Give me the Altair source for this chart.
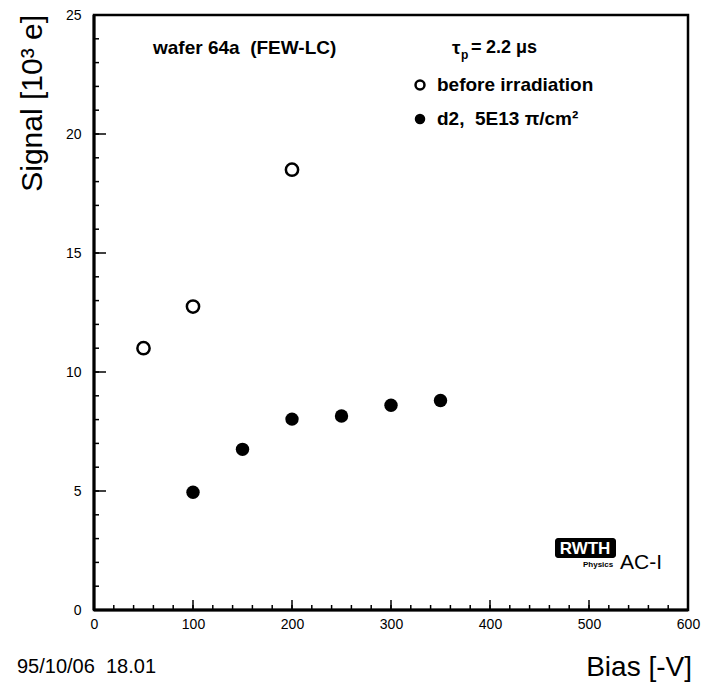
import altair as alt
import pandas as pd

# ---- data ----
bias_before = [50, 100, 200]
signal_before = [11.0, 12.75, 18.5]

bias_irr = [100, 150, 200, 250, 300, 350]
signal_irr = [4.95, 6.75, 8.02, 8.15, 8.6, 8.8]

x_major = [0, 100, 200, 300, 400, 500, 600]
x_minor = list(range(0, 601, 20))
y_major = [0, 5, 10, 15, 20, 25]
y_minor = list(range(0, 26, 1))

W, H = 594, 595
FONT = "Liberation Sans"
NB = "\u00a0"

xs = alt.Scale(domain=[0, 600], nice=False, zero=False)
ys = alt.Scale(domain=[0, 25], nice=False, zero=False)

one = alt.Data(values=[{"a": 1}])


def txt(s, x, y, size, weight="normal", align="left", angle=None, baseline="middle", color="black"):
    kw = dict(font=FONT, fontSize=size, fontWeight=weight, align=align,
              baseline=baseline, color=color)
    if angle is not None:
        kw["angle"] = angle
    return alt.Chart(one).mark_text(**kw).encode(
        x=alt.value(x), y=alt.value(y), text=alt.value(s))


xaxis = alt.Axis(values=x_major, title=None, ticks=False, domain=False, grid=False,
                 labelFont=FONT, labelFontSize=14, labelColor="black",
                 labelPadding=7, labelFlush=False)
yaxis = alt.Axis(values=y_major, title=None, ticks=False, domain=False, grid=False,
                 labelFont=FONT, labelFontSize=14, labelColor="black",
                 labelPadding=13, labelFlush=False)

df_before = pd.DataFrame({"bias": bias_before, "signal": signal_before})
df_irr = pd.DataFrame({"bias": bias_irr, "signal": signal_irr})

before = alt.Chart(df_before).mark_point(
    shape="circle", filled=False, size=150, strokeWidth=2.5, color="black", opacity=1
).encode(
    x=alt.X("bias:Q", scale=xs, axis=xaxis),
    y=alt.Y("signal:Q", scale=ys, axis=yaxis),
)

irr = alt.Chart(df_irr).mark_circle(size=180, color="black", opacity=1).encode(
    x=alt.X("bias:Q", scale=xs, axis=xaxis),
    y=alt.Y("signal:Q", scale=ys, axis=yaxis),
)

# inward ticks
y_min_t = alt.Chart(pd.DataFrame({"bias": [0] * len(y_minor), "signal": y_minor})).mark_rule(
    color="black", strokeWidth=1.5).encode(
    y=alt.Y("signal:Q", scale=ys, axis=yaxis), x=alt.value(0), x2=alt.value(5))
y_maj_t = alt.Chart(pd.DataFrame({"bias": [0] * len(y_major), "signal": y_major})).mark_rule(
    color="black", strokeWidth=1.5).encode(
    y=alt.Y("signal:Q", scale=ys, axis=yaxis), x=alt.value(0), x2=alt.value(12))
x_min_t = alt.Chart(pd.DataFrame({"bias": x_minor})).mark_rule(color="black", strokeWidth=1.5).encode(
    x=alt.X("bias:Q", scale=xs, axis=xaxis), y=alt.value(H), y2=alt.value(H - 5))
x_maj_t = alt.Chart(pd.DataFrame({"bias": x_major})).mark_rule(color="black", strokeWidth=1.5).encode(
    x=alt.X("bias:Q", scale=xs, axis=xaxis), y=alt.value(H), y2=alt.value(H - 10))

# extra weight on left and bottom frame edges
left_edge = alt.Chart(one).mark_rule(color="black", strokeWidth=3).encode(
    x=alt.value(0), y=alt.value(0), y2=alt.value(H))
bottom_edge = alt.Chart(one).mark_rule(color="black", strokeWidth=3).encode(
    y=alt.value(H), x=alt.value(0), x2=alt.value(W))

# legend / annotations
leg_open = alt.Chart(one).mark_point(shape="circle", filled=False, size=80, strokeWidth=2.5,
                                     color="black", opacity=1).encode(
    x=alt.value(326), y=alt.value(70))
leg_fill = alt.Chart(one).mark_circle(size=110, color="black", opacity=1).encode(
    x=alt.value(326), y=alt.value(104))

logo_box = alt.Chart(one).mark_rect(color="black", cornerRadius=3).encode(
    x=alt.value(461), x2=alt.value(522), y=alt.value(523), y2=alt.value(543))

layers = [
    y_min_t, y_maj_t, x_min_t, x_maj_t, left_edge, bottom_edge, before, irr,
    txt("wafer 64a" + NB + NB + "(FEW-LC)", 59, 33, 19, weight="bold"),
    txt("τ", 358, 33, 19, weight="bold"),
    txt("p", 367, 40, 12, weight="bold"),
    txt("=", 377, 33, 18, weight="bold"),
    txt("2.2" + NB + "μs", 392, 33, 18, weight="bold"),
    leg_open, leg_fill,
    txt("before irradiation", 343, 70, 19, weight="bold"),
    txt("d2," + NB + NB + "5E13 π/cm²", 343, 104, 19, weight="bold"),
    logo_box,
    txt("RWTH", 491, 534, 17, weight="bold", align="center", color="white"),
    txt("Physics", 489, 550, 8, weight="bold"),
    txt("AC-I", 526, 548, 21),
    txt("Signal [10³" + NB + "e]", -52, 0, 30, align="right", angle=270, baseline="alphabetic"),
    txt("Bias [-V]", 598, 653, 28, align="right"),
    txt("95/10/06" + NB + NB + "18.01", -77, 652, 20),
]

chart = alt.layer(*layers).properties(
    width=W, height=H,
    padding={"left": 94, "top": 15, "right": 20, "bottom": 72},
    autosize=alt.AutoSizeParams(type="none"),
    background="white",
).configure_view(stroke="black", strokeWidth=2.5)

chart.save("out.html", embed_options={"renderer": "svg", "actions": False})
